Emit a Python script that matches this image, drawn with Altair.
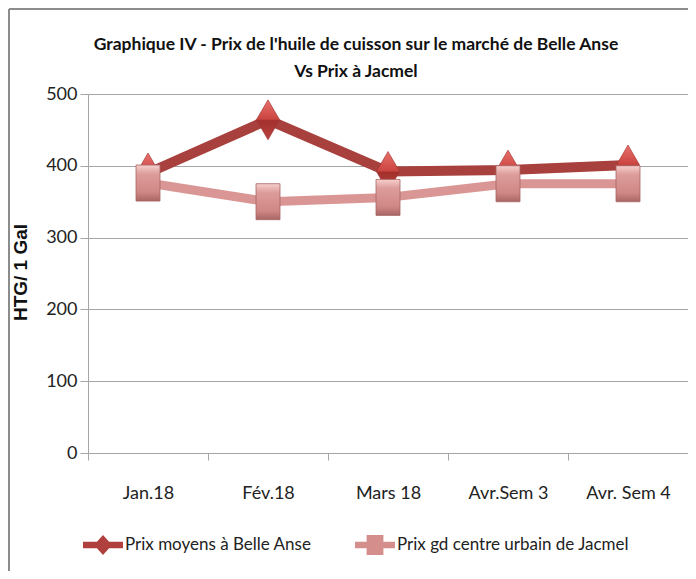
import altair as alt
import pandas as pd

categories = ["Jan.18", "Fév.18", "Mars 18", "Avr.Sem 3", "Avr. Sem 4"]
belle_anse = [390, 464, 392, 394, 401]
jacmel = [376, 350, 356, 375, 375]
series_names = ["Prix moyens à Belle Anse", "Prix gd centre urbain de Jacmel"]
y_ticks = [0, 100, 200, 300, 400, 500]
title_lines = ["Graphique IV - Prix de l'huile de cuisson sur le marché de Belle Anse",
               "Vs Prix à Jacmel"]

rows = []
for c, v in zip(categories, belle_anse):
    rows.append({"cat": c, "val": v, "series": series_names[0]})
for c, v in zip(categories, jacmel):
    rows.append({"cat": c, "val": v, "series": series_names[1]})
df = pd.DataFrame(rows)

FONT = "Lato"
GRID = "#a6a6a6"

DIAMOND = "M0,-1L0.58,0L0,1L-0.58,0Z"
RECT = "M-0.6,-0.9L0.6,-0.9L0.6,0.9L-0.6,0.9Z"
LEG_DIAMOND = "M-1,-0.16L1,-0.16L1,0.16L-1,0.16Z M0,-0.5L0.45,0L0,0.5L-0.45,0Z"
LEG_RECT = "M-1,-0.16L1,-0.16L1,0.16L-1,0.16Z M-0.42,-0.5L0.42,-0.5L0.42,0.5L-0.42,0.5Z"

x_enc = alt.X(
    "cat:N", sort=categories,
    scale=alt.Scale(type="band", paddingInner=0, paddingOuter=0),
    axis=alt.Axis(title=None, tickBand="extent", labelFont=FONT, labelFontSize=18,
                  labelColor="#222222", labelPadding=24, labelAngle=0,
                  domainColor=GRID, tickColor=GRID, tickSize=7, grid=False),
)
y_enc = alt.Y(
    "val:Q", scale=alt.Scale(domain=[0, 500], nice=False),
    axis=alt.Axis(values=y_ticks, title="HTG/ 1 Gal", titleFont="Liberation Sans",
                  titleFontSize=19, titleFontWeight="bold", titleColor="#111111",
                  titleX=-68, titleY=178, titleAngle=270, titleAlign="center",
                  titleBaseline="middle",
                  labelFont=FONT, labelFontSize=18, labelColor="#222222", labelPadding=3,
                  domainColor=GRID, tickColor=GRID, tickSize=8, gridColor=GRID,
                  gridWidth=1.2),
)

base = alt.Chart(df).encode(x=x_enc, y=y_enc)

ba = base.transform_filter(alt.datum.series == series_names[0])
jc = base.transform_filter(alt.datum.series == series_names[1])

ba_line = ba.mark_line(color="#A8403D", strokeWidth=10, strokeJoin="round")
jc_line = jc.mark_line(color="#D99694", strokeWidth=9, strokeJoin="round")

ba_pts = ba.mark_point(
    shape=DIAMOND, size=1600, filled=True, opacity=1,
    fill=alt.LinearGradient(gradient="linear", x1=0, x2=0, y1=0, y2=1, stops=[
        alt.GradientStop(color="#E8716D", offset=0),
        alt.GradientStop(color="#CB4541", offset=0.48),
        alt.GradientStop(color="#A3302D", offset=0.52),
        alt.GradientStop(color="#B9423F", offset=1),
    ]),
    stroke="#9A2E2B", strokeWidth=0.6,
)
jc_pts = jc.mark_point(
    shape=RECT, size=1600, filled=True, opacity=1,
    fill=alt.LinearGradient(gradient="linear", x1=0, x2=0, y1=0, y2=1, stops=[
        alt.GradientStop(color="#F6CFCD", offset=0),
        alt.GradientStop(color="#DC9C9A", offset=0.25),
        alt.GradientStop(color="#D08886", offset=0.75),
        alt.GradientStop(color="#A86664", offset=1),
    ]),
    stroke="#A66563", strokeWidth=0.8,
)

leg_common = dict(title=None, orient="none", legendY=431, symbolSize=1600,
                  symbolStrokeWidth=0, symbolOpacity=1, labelFont=FONT, labelFontSize=17,
                  labelColor="#222222", labelOffset=2, padding=0, labelLimit=400)
leg1 = ba.mark_point(filled=True, opacity=0, color="#B0403D").encode(
    shape=alt.Shape("series:N", scale=alt.Scale(domain=[series_names[0]], range=[LEG_DIAMOND]),
                    legend=alt.Legend(legendX=-5, **leg_common)),
)
leg2 = jc.mark_point(filled=True, opacity=0, color="#D48F8D").encode(
    shape=alt.Shape("series:N", scale=alt.Scale(domain=[series_names[1]], range=[LEG_RECT]),
                    legend=alt.Legend(legendX=267, **leg_common)),
)

one = pd.DataFrame({"k": [0]})
frame_top = alt.Chart(one).mark_rule(color="#8c8c8c", strokeWidth=2).encode(
    x=alt.value(-79), x2=alt.value(600), y=alt.value(-85))
frame_left = alt.Chart(one).mark_rule(color="#8c8c8c", strokeWidth=2).encode(
    x=alt.value(-79), y=alt.value(-85), y2=alt.value(477))
title = alt.Chart(one).mark_text(
    text=title_lines, font=FONT, fontSize=17.5, fontWeight="bold", color="#111111",
    align="center", baseline="middle", lineHeight=27,
).encode(x=alt.value(268), y=alt.value(-49))

chart = alt.layer(
    frame_top, frame_left, title, ba_line, ba_pts, jc_line, jc_pts, leg1, leg2
).resolve_scale(shape="independent").properties(
    width=600, height=359,
    autosize="none",
    padding={"left": 80, "top": 86, "right": 0, "bottom": 118},
).configure_view(stroke=None).configure(background="white")

chart.save("out.html", embed_options={"renderer": "svg", "actions": False})
